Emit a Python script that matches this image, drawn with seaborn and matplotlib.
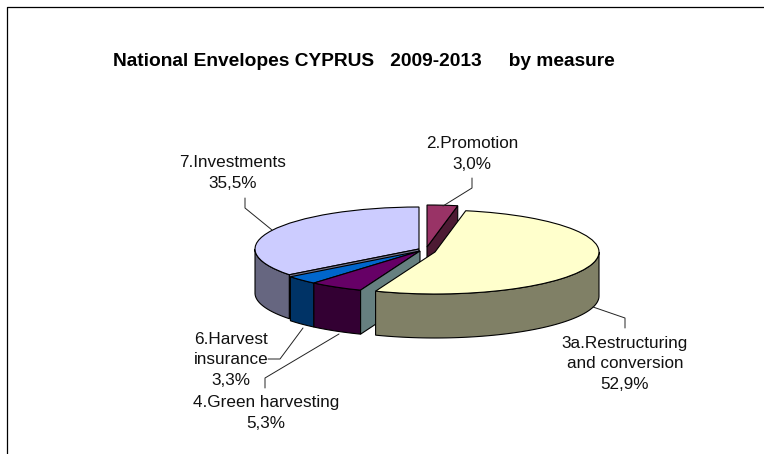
import numpy as np
import matplotlib
matplotlib.use("Agg")
import matplotlib.pyplot as plt
import seaborn as sns
from matplotlib.colors import to_rgb

# data
measures = ["2.Promotion", "3a.Restructuring", "4.Green harvesting", "6.Harvest insurance", "7.Investments"]
shares = [3.0, 52.9, 5.3, 3.3, 35.5]
top_colors = ["#993366", "#FFFFCC", "#660066", "#0066CC", "#CCCCFF"]
title_text = "National Envelopes CYPRUS   2009-2013     by measure"
label_texts = ["2.Promotion\n3,0%", "3a.Restructuring\nand conversion\n52,9%",
               "4.Green harvesting\n5,3%", "6.Harvest\ninsurance\n3,3%", "7.Investments\n35,5%"]

# layout, in pixels of the output
W, H = 764, 454
RX, RY, DEPTH = 164, 42, 44
X0, Y0 = 419, 250
centres_px = [(427, 247), (435, 252), (420, 251), (420, 251), (419, 249)]
label_px = [(472, 154), (625, 364), (266, 413), (231, 360), (233, 173)]
leaders_px = [
    [(443, 206), (472, 188), (472, 178)],
    [(593, 307), (625, 318), (625, 328)],
    [(339, 334), (265, 378), (265, 388)],
    [(303, 328), (280, 359), (268, 359)],
    [(272, 230), (245, 208), (245, 198)],
]

sns.set_theme(style="white")
plt.rcParams['font.family'] = ['Liberation Sans', 'DejaVu Sans']

fig = plt.figure(figsize=(W / 100, H / 100), dpi=100, facecolor="white")
ax = fig.add_axes([0, 0, 1, 1])


def to_unit(p):
    return (p[0] - X0) / RX, (Y0 - p[1]) / RY


def wall_color(c):
    return tuple(v * 0.5 for v in to_rgb(c))


def edge_point(centre, angle):
    a = np.radians(angle)
    return centre[0] + np.cos(a), centre[1] + np.sin(a)


def cut_wall(centre, angle, color):
    px, py = edge_point(centre, angle)
    d = DEPTH / RY
    ax.fill([centre[0], px, px, centre[0]], [centre[1], py, py - d, centre[1] - d],
            facecolor=color, edgecolor="black", linewidth=0.8)


def draw_slice(i):
    c = to_unit(centres_px[i])
    a1, a2 = angles[i], angles[i + 1]
    # outer wall, only the front half of the rim shows
    lo, hi = max(a2, -180), min(a1, 0)
    if hi > lo:
        t = np.radians(np.linspace(lo, hi, 80))
        xs = c[0] + np.cos(t)
        ys = c[1] + np.sin(t)
        ax.fill(np.r_[xs, xs[::-1]], np.r_[ys, ys[::-1] - DEPTH / RY],
                facecolor=wall_color(top_colors[i]), edgecolor="black", linewidth=0.8)
    wedges, _ = ax.pie([shares[i], 100 - shares[i]], startangle=a1, counterclock=False,
                       center=c, radius=1, colors=[top_colors[i], "white"],
                       wedgeprops=dict(edgecolor="black", linewidth=0.8))
    wedges[1].remove()


angles = 90 - np.r_[0, np.cumsum(shares)] * 3.6

# back to front
draw_slice(4)
# thin face of Investments seen above the Harvest slice
cut_wall(to_unit(centres_px[4]), angles[4], "#77778F")
draw_slice(3)
draw_slice(2)
# grey-green inner face left open by the exploded yellow slice
cut_wall(to_unit(centres_px[2]), angles[2], "#668080")
# inner face of Promotion, yellow covers most of it
cut_wall(to_unit(centres_px[0]), angles[1], wall_color(top_colors[0]))
draw_slice(0)
draw_slice(1)

ax.set_aspect("auto")
ax.set_xlim(-X0 / RX, (W - X0) / RX)
ax.set_ylim((Y0 - H) / RY, Y0 / RY)
ax.axis("off")

# overlay in pixel coordinates for text and lines
over = fig.add_axes([0, 0, 1, 1], facecolor="none")
over.set_xlim(0, W)
over.set_ylim(H, 0)
over.axis("off")

over.plot([7, 7, W], [H, 7, 7], color="black", linewidth=0.9)
over.text(364, 61, title_text, ha="center", va="center", fontsize=13.8,
          fontweight="bold", color="black")

for pts in leaders_px:
    over.plot([p[0] for p in pts], [p[1] for p in pts], color="#222222", linewidth=0.7)
for txt, (x, y) in zip(label_texts, label_px):
    over.text(x, y, txt, ha="center", va="center", fontsize=12.3, linespacing=1.46, color="#111111")

plt.savefig("out.png", dpi=100)
plt.close()
